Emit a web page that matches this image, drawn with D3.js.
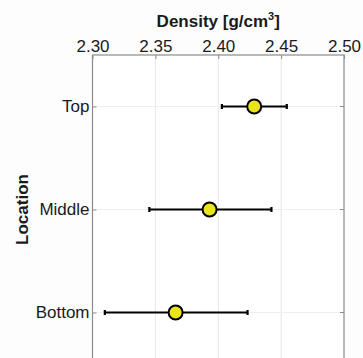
<!DOCTYPE html>
<html>
<head>
<meta charset="utf-8">
<script src="https://cdn.jsdelivr.net/npm/d3@7"></script>
<style>
  html, body { margin: 0; padding: 0; background: #fdfdfd; }
  svg { display: block; }
  text { font-family: "Liberation Sans", Arial, Helvetica, sans-serif; fill: #1a1a1a; }
</style>
</head>
<body>
<div id="art"></div>
<script>
// data
const locations = ["Top", "Middle", "Bottom"];
const means = [2.4286, 2.3931, 2.3661];
const lows = [2.4029, 2.3452, 2.3098];
const highs = [2.4545, 2.4423, 2.4233];
const xTicks = [2.30, 2.35, 2.40, 2.45, 2.50];

const width = 363, height = 358;
const margin = { left: 92.5, right: 19, top: 55 };
const rowStep = 103;

function art() {
  const svg = d3.select("#art").append("svg")
    .attr("width", width)
    .attr("height", height);

  const x = d3.scaleLinear()
    .domain([2.30, 2.50])
    .range([margin.left, width - margin.right]);

  // categories sit at 1, 2, 3 with half a step of room above
  const y = d3.scaleLinear()
    .domain([0.5, 3.5])
    .range([margin.top, margin.top + rowStep * 3]);

  const bottom = y(3.5);

  svg.append("rect")
    .attr("x", x(2.30)).attr("y", y(0.5))
    .attr("width", x(2.50) - x(2.30)).attr("height", bottom - y(0.5))
    .style("fill", "#ffffff");

  // grid
  svg.selectAll("line.vgrid")
    .data(xTicks.slice(1, -1))
    .enter().append("line")
    .attr("class", "vgrid")
    .attr("x1", d => x(d)).attr("x2", d => x(d))
    .attr("y1", y(0.5)).attr("y2", bottom)
    .style("stroke", "#e6e6e6").style("stroke-width", 1);

  svg.selectAll("line.hgrid")
    .data(locations)
    .enter().append("line")
    .attr("class", "hgrid")
    .attr("x1", x(2.30)).attr("x2", x(2.50))
    .attr("y1", (d, i) => y(i + 1)).attr("y2", (d, i) => y(i + 1))
    .style("stroke", "#efefef").style("stroke-width", 1);

  // box
  svg.append("rect")
    .attr("x", x(2.30)).attr("y", y(0.5))
    .attr("width", x(2.50) - x(2.30)).attr("height", bottom - y(0.5))
    .style("fill", "none")
    .style("stroke", "#8c8c8c").style("stroke-width", 1.2);

  // top axis
  const xAxis = d3.axisTop(x).tickValues(xTicks).tickFormat(d3.format(".2f"))
    .tickSizeInner(-4).tickSizeOuter(0).tickPadding(6);
  const gx = svg.append("g")
    .attr("transform", `translate(0,${y(0.5)})`)
    .call(xAxis);
  gx.select(".domain").remove();
  gx.selectAll(".tick line").style("stroke", "#8c8c8c");
  gx.selectAll(".tick text")
    .attr("y", -3)
    .style("font-size", "17px")
    .style("font-family", "'Liberation Sans', Arial, sans-serif")
    .style("fill", "#1a1a1a");

  // left axis
  const yAxis = d3.axisLeft(y).tickValues([1, 2, 3])
    .tickFormat(d => locations[d - 1])
    .tickSizeInner(-4).tickSizeOuter(0).tickPadding(3);
  const gy = svg.append("g")
    .attr("transform", `translate(${x(2.30)},0)`)
    .call(yAxis);
  gy.select(".domain").remove();
  gy.selectAll(".tick line").style("stroke", "#8c8c8c");
  gy.selectAll(".tick text")
    .attr("x", -3)
    .style("font-size", "17px")
    .style("font-family", "'Liberation Sans', Arial, sans-serif")
    .style("fill", "#1a1a1a");

  // right side ticks
  svg.selectAll("line.rtick")
    .data(locations)
    .enter().append("line")
    .attr("class", "rtick")
    .attr("x1", x(2.50) - 4).attr("x2", x(2.50))
    .attr("y1", (d, i) => y(i + 1)).attr("y2", (d, i) => y(i + 1))
    .style("stroke", "#8c8c8c");

  // titles
  svg.append("text")
    .attr("x", (x(2.30) + x(2.50)) / 2)
    .attr("y", 27)
    .attr("text-anchor", "middle")
    .style("font-size", "17px")
    .style("font-weight", "bold")
    .text("Density [g/cm")
    .append("tspan")
    .attr("dy", -7)
    .style("font-size", "11px")
    .text("3")
    .select(function () { return this.parentNode; })
    .append("tspan")
    .attr("dy", 7)
    .text("]");

  svg.append("text")
    .attr("transform", `translate(28,${y(2)}) rotate(-90)`)
    .attr("text-anchor", "middle")
    .style("font-size", "17px")
    .style("font-weight", "bold")
    .text("Location");

  // error bars
  const rows = locations.map((name, i) => ({
    name, pos: i + 1, mean: means[i], lo: lows[i], hi: highs[i]
  }));

  svg.selectAll("line.err")
    .data(rows)
    .enter().append("line")
    .attr("class", "err")
    .attr("x1", d => x(d.lo)).attr("x2", d => x(d.hi))
    .attr("y1", d => y(d.pos)).attr("y2", d => y(d.pos))
    .style("stroke", "#000").style("stroke-width", 2.2);

  ["lo", "hi"].forEach(k => {
    svg.selectAll("line.cap-" + k)
      .data(rows)
      .enter().append("line")
      .attr("class", "cap-" + k)
      .attr("x1", d => x(d[k])).attr("x2", d => x(d[k]))
      .attr("y1", d => y(d.pos) - 2.5).attr("y2", d => y(d.pos) + 2.5)
      .style("stroke", "#000").style("stroke-width", 2.2);
  });

  svg.selectAll("circle.pt")
    .data(rows)
    .enter().append("circle")
    .attr("class", "pt")
    .attr("cx", d => x(d.mean)).attr("cy", d => y(d.pos))
    .attr("r", 7)
    .style("fill", "#e8e619")
    .style("stroke", "#000").style("stroke-width", 2);
}

window.onload = function () {
  art();
};
</script>
</body>
</html>
